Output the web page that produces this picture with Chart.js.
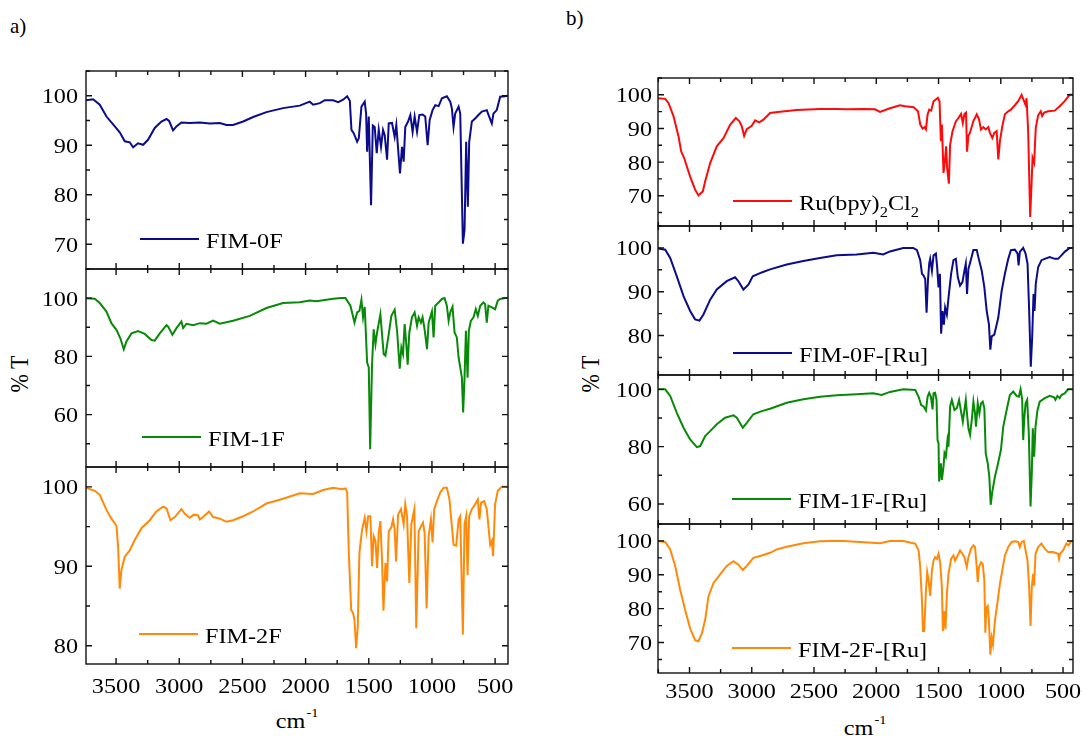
<!DOCTYPE html>
<html>
<head>
<meta charset="utf-8">
<script src="https://cdn.jsdelivr.net/npm/chart.js@4/dist/chart.umd.min.js"></script>
<style>
  body { margin: 0; background: #fff; width: 1083px; height: 736px; position: relative; overflow: hidden; }
  canvas { position: absolute; }
  .t { position: absolute; font-family: 'Liberation Serif', 'Times New Roman', serif; font-size: 22px; line-height: 1; color: #000; white-space: nowrap; }
  .rot { transform-origin: 0 0; transform: scaleX(1.1) rotate(-90deg) translate(-50%, -50%); }
  .xt { transform-origin: 50% 0; transform: translateX(-50%) scaleX(1.1); }
  .sup { font-size: 13px; position: relative; top: -11px; margin-left: 1px; }
</style>
</head>
<body>
<div class="t" style="left:10px;top:16px;font-size:21px">a)</div>
<div class="t" style="left:566px;top:8px;font-size:21px">b)</div>
<div class="t rot" style="left:20px;top:374px">% T</div>
<div class="t rot" style="left:591px;top:374px">% T</div>
<div class="t xt" style="left:297px;top:710px">cm<span class="sup">-1</span></div>
<div class="t xt" style="left:865px;top:717px">cm<span class="sup">-1</span></div>
<script>
// wavenumbers (cm-1) and transmittance (%)

// a) FIM-0F
const fim0fWn = [3740,3682,3629,3576,3510,3471,3431,3392,3365,3326,
  3286,3247,3194,3141,3101,3080,3049,3022,2983,2917,
  2837,2758,2679,2626,2574,2494,2415,2310,2178,2046,
  1967,1940,1887,1848,1782,1742,1703,1671,1650,1637,
  1618,1592,1579,1558,1532,1521,1513,1500,1482,1468,
  1453,1437,1421,1403,1387,1374,1355,1342,1316,1295,
  1282,1253,1237,1224,1211,1189,1171,1153,1137,1118,
  1100,1074,1053,1034,1018,995,974,947,921,882,
  855,842,829,816,789,776,755,742,729,716,
  705,684,658,632,605,566,547,526,513,487,
  460,421,400];
const fim0fT = [99.1,99.3,98.2,95.8,93.8,92.6,90.8,90.6,89.6,90.4,
  90.1,91.1,93.5,94.8,95.3,94.9,93.0,93.8,94.6,94.5,
  94.6,94.4,94.5,94.1,94.1,94.8,95.7,96.7,97.5,98.0,
  98.8,98.2,98.5,99.1,99.1,98.7,99.2,99.9,99.0,93.1,
  92.4,90.7,91.4,97.8,98.8,96.4,88.7,95.8,77.9,94.0,
  93.7,88.4,93.1,89.7,93.1,92.1,87.1,94.4,94.5,91.7,
  94.1,84.3,89.7,86.7,93.7,94.8,96.1,92.7,95.8,92.7,
  96.1,96.2,95.8,90.0,95.1,97.1,98.1,97.9,99.5,99.9,
  98.8,97.4,93.7,96.4,97.8,96.4,70.1,72.9,90.7,77.6,
  90.7,94.8,95.4,96.1,96.8,97.1,95.8,94.4,96.4,97.1,
  99.8,99.9,100];

// a) FIM-1F
const fim1fWn = [3740,3669,3629,3576,3537,3497,3466,3439,3418,3378,
  3326,3273,3220,3194,3154,3101,3088,3054,3022,2983,
  2969,2943,2890,2837,2785,2732,2679,2574,2442,2310,
  2178,2046,1967,1914,1782,1720,1684,1645,1613,1592,
  1574,1558,1545,1532,1513,1500,1489,1474,1461,1447,
  1434,1408,1382,1368,1342,1321,1295,1276,1255,1242,
  1229,1216,1203,1192,1179,1158,1137,1118,1105,1087,
  1074,1058,1039,1026,1000,987,974,947,921,900,
  882,868,855,837,821,803,789,776,763,753,
  742,731,718,708,692,671,653,637,618,592,
  579,566,553,526,500,479,460,421,400];
const fim1fT = [100,99.8,98.3,95.4,91.4,89.1,86.2,82.4,85.1,87.9,
  88.7,87.7,85.6,85.4,87.9,90.7,90.2,87.4,89.7,92.0,
  89.7,91.2,90.7,91.4,91.2,92.3,91.2,92.2,93.9,96.6,
  98.3,98.6,99.2,98.9,99.8,100,100,97.4,91.6,95.1,
  95.6,99.4,93.4,97.0,77.9,76.2,48.1,77.3,89.3,84.2,
  88.2,94.5,80.8,80.2,87.6,93.9,96.0,88.8,75.8,83.0,
  80.8,91.1,84.2,77.1,88.2,93.4,95.1,90.5,93.4,91.6,
  93.4,89.3,82.5,91.6,95.4,86.5,97.4,98.5,99.7,100,
  97.4,92.2,95.1,97.0,88.2,86.5,79.6,76.2,72.7,60.7,
  72.7,88.8,72.7,88.8,92.2,93.4,96.2,93.9,97.4,98.5,
  97.9,91.6,97.4,96.8,96.2,99.1,99.7,100,100];

// a) FIM-2F
const fim2fWn = [3740,3669,3629,3576,3537,3497,3484,3471,3458,3431,
  3392,3352,3299,3233,3181,3128,3101,3070,3035,2983,
  2956,2917,2885,2851,2837,2811,2764,2732,2679,2626,
  2574,2494,2415,2310,2178,2046,1940,1861,1782,1711,
  1684,1671,1658,1639,1624,1613,1600,1587,1574,1553,
  1532,1518,1505,1487,1474,1461,1447,1434,1421,1408,
  1395,1384,1368,1355,1342,1321,1308,1295,1284,1268,
  1245,1224,1211,1197,1179,1163,1139,1124,1105,1084,
  1071,1058,1042,1026,1008,995,982,961,934,908,
  882,861,842,829,808,789,776,755,742,729,
  718,705,684,658,637,624,611,587,566,539,
  526,516,500,479,447,421,400];
const fim2fT = [99.9,99.5,99.0,97.1,96.0,95.1,92.5,87.2,89.5,91.2,
  92.0,93.3,94.8,95.8,96.9,97.5,97.3,95.8,96.2,97.2,
  96.6,96.1,96.5,96.4,95.9,96.2,96.9,96.2,96.0,95.6,
  95.8,96.3,96.9,97.9,98.5,99.2,99.1,99.6,99.9,99.7,
  99.8,99.3,91.7,84.5,84.1,83.2,79.7,82.4,91.7,94.6,
  96.1,94.4,96.3,96.3,90.0,93.8,93.2,89.8,94.2,95.7,
  90.8,84.4,90.4,88.1,94.4,94.9,95.9,94.6,90.6,96.5,
  97.2,95.3,97.8,96.3,87.9,95.3,97.2,82.2,94.4,95.1,
  95.5,94.2,84.7,93.8,95.9,93.0,97.2,98.2,99.3,99.9,
  99.9,98.4,95.0,92.7,92.6,95.9,96.3,81.4,95.3,96.3,
  88.9,96.3,97.2,97.8,98.4,95.9,98.0,98.2,97.2,92.7,
  93.2,91.3,97.8,99.5,100,100,100];

// b) Ru(bpy)2Cl2
const rubpyWn = [3754,3695,3668,3628,3588,3567,3543,3495,3455,3428,
  3393,3374,3334,3281,3227,3174,3128,3099,3080,3061,
  3040,3000,2973,2941,2906,2853,2773,2639,2452,2318,
  2238,2104,2011,1970,1890,1810,1767,1700,1665,1647,
  1628,1612,1601,1588,1575,1559,1540,1505,1492,1481,
  1473,1460,1449,1439,1431,1417,1407,1388,1361,1340,
  1319,1305,1292,1279,1271,1260,1247,1220,1193,1175,
  1159,1140,1121,1100,1087,1068,1052,1033,1020,1007,
  988,967,940,919,887,860,833,817,801,793,
  780,764,753,745,732,719,700,679,668,652,
  620,567,527,487,447,420];
const rubpyT = [99.0,98.8,97.5,93.6,87.6,83.2,81.2,75.7,71.8,70.1,
  71.3,74.3,79.7,84.7,87.1,91.1,93.1,92.1,90.6,87.8,
  89.8,90.8,92.4,91.8,92.6,94.6,95.0,95.5,95.8,95.8,
  95.7,95.8,95.7,94.9,96.0,96.9,96.6,96.3,95.1,91.2,
  90.0,90.4,89.7,94.1,95.6,95.3,98.1,99.1,98.1,86.2,
  91.2,76.8,80.2,84.7,78.3,73.6,85.1,89.1,92.1,93.1,
  94.3,91.6,94.3,94.7,83.1,87.8,88.8,92.2,94.2,92.7,
  89.7,90.4,89.7,90.4,88.7,87.2,88.7,89.2,80.8,86.2,
  90.6,94.2,95.1,95.6,96.9,98.1,100,98.5,97.0,99.0,
  89.1,63.7,73.4,81.3,79.8,90.2,93.9,95.1,93.7,94.7,
  95.1,95.3,96.6,98.1,100,100];

// b) FIM-0F-[Ru]
const fim0fRuWn = [3754,3695,3655,3602,3548,3495,3455,3420,3388,3334,
  3281,3201,3134,3107,3067,3027,2992,2920,2853,2719,
  2586,2452,2318,2158,2024,1944,1890,1783,1703,1673,
  1647,1633,1620,1607,1596,1585,1575,1567,1553,1540,
  1521,1511,1500,1489,1479,1468,1457,1447,1433,1420,
  1399,1380,1361,1345,1327,1308,1292,1281,1271,1260,
  1241,1220,1193,1180,1167,1153,1132,1113,1095,1084,
  1073,1052,1020,993,967,940,919,887,865,857,
  847,820,801,785,772,759,748,737,729,719,
  700,673,647,607,567,540,513,487,447,420];
const fim0fRuT = [99.9,99.6,97.7,93.5,89.0,85.6,83.7,83.4,84.8,88.2,
  90.5,92.4,93.3,92.4,90.5,91.6,93.5,94.4,95.1,96.2,
  97.0,97.7,98.3,98.5,98.9,98.5,99.2,100,100,99.5,
  97.2,94.1,93.7,92.9,85.2,92.5,96.4,97.5,94.8,98.3,
  98.7,95.6,91.0,94.1,80.4,85.6,82.5,86.4,84.8,88.6,
  94.1,97.2,97.5,93.3,91.4,92.2,94.8,96.4,89.5,95.2,
  97.2,99.5,99.5,97.9,96.4,94.8,91.0,85.6,82.5,76.8,
  79.8,80.2,84.1,90.2,94.1,97.5,99.5,99.6,98.7,96.0,
  99.1,100,98.7,96.4,85.6,72.9,79.5,89.5,85.6,91.8,
  95.6,97.2,97.5,97.9,97.5,97.5,98.3,99.1,100,100];

// b) FIM-1F-[Ru]
const fim1fRuWn = [3754,3695,3655,3602,3548,3495,3441,3414,3374,3334,
  3281,3214,3147,3120,3072,3040,2987,2920,2853,2719,
  2586,2452,2318,2158,2024,1957,1890,1783,1687,1660,
  1639,1620,1601,1588,1575,1561,1548,1540,1527,1516,
  1508,1500,1495,1481,1473,1460,1452,1441,1428,1420,
  1407,1393,1372,1353,1335,1319,1305,1292,1281,1273,
  1260,1247,1233,1220,1207,1199,1185,1172,1159,1145,
  1132,1121,1105,1092,1081,1068,1047,1025,999,980,
  953,927,900,873,855,841,828,820,812,801,
  788,775,761,751,743,732,721,705,687,647,
  607,572,561,545,527,513,487,460,420];
const fim1fRuT = [100,100,97.7,91.8,86.6,82.5,79.8,80.2,83.7,85.4,
  87.8,90.1,90.9,90.1,86.6,88.3,91.3,92.4,93.2,95.3,
  96.5,97.4,97.9,98.3,98.6,98.0,99.1,100,99.8,97.4,
  94.5,94.0,92.6,97.4,98.8,97.4,93.0,98.6,98.8,96.3,
  82.3,81.2,67.8,74.2,68.4,73.0,77.7,76.5,82.3,80.0,
  94.0,96.3,92.8,93.4,96.3,92.2,88.7,92.8,96.3,92.2,
  86.4,84.1,89.3,95.7,91.6,87.0,95.1,91.6,95.1,95.7,
  93.4,77.7,74.2,69.5,59.7,64.3,69.5,73.6,78.8,87.0,
  92.8,98.0,99.2,97.7,97.4,100,96.3,82.3,89.3,95.1,
  96.3,84.7,59.1,70.7,86.4,76.5,87.0,92.8,95.7,96.9,
  97.7,97.2,96.3,97.7,96.9,98.0,98.6,100,100];

// b) FIM-2F-[Ru]
const fim2fRuWn = [3754,3695,3655,3615,3575,3535,3495,3455,3428,3401,
  3374,3348,3307,3254,3201,3147,3107,3072,3040,2987,
  2920,2853,2799,2719,2586,2452,2372,2265,2131,1970,
  1890,1783,1703,1687,1660,1647,1633,1625,1615,1601,
  1591,1580,1567,1553,1540,1527,1513,1500,1487,1473,
  1465,1455,1444,1433,1420,1399,1380,1367,1353,1327,
  1308,1292,1273,1260,1239,1220,1207,1193,1185,1175,
  1159,1145,1132,1124,1116,1105,1095,1084,1073,1063,
  1047,1025,1007,988,967,940,913,887,860,847,
  833,815,801,785,772,761,751,740,732,721,
  700,673,647,620,580,540,532,524,500,473,
  455,433,420];
const fim2fRuT = [100,99.7,97.5,92.6,85.6,79.6,74.2,70.7,70.4,72.7,
  76.7,83.6,87.6,90.1,92.6,94.0,93.0,91.4,92.6,95.0,
  95.7,96.5,97.5,98.3,99.3,99.9,100,100,99.7,99.3,
  100,100,99.3,99.2,97.2,92.3,82.3,73.4,73.4,85.3,
  90.8,88.3,83.8,91.3,94.2,95.2,94.7,96.2,93.7,86.3,
  73.4,79.3,73.9,84.3,90.3,94.7,95.7,94.2,95.2,97.2,
  96.2,95.2,92.3,95.2,97.7,98.7,98.2,92.3,87.8,92.3,
  93.7,93.2,88.3,72.9,80.3,80.8,76.4,66.4,71.4,69.4,
  76.4,82.3,87.3,91.3,95.7,98.2,99.7,99.9,99.7,98.2,
  99.7,100,97.2,94.2,86.3,74.9,86.3,90.3,86.8,96.2,
  98.2,99.2,97.7,96.7,96.7,96.2,94.7,96.2,97.2,99.2,
  98.7,100,100];

const NAVY = '#0b0b8c', GREEN = '#078a07', ORANGE = '#ff8a0a', RED = '#ff0a0a';
const FONT = '22px "Liberation Serif", "Times New Roman", serif';
const SUBFONT = '15px "Liberation Serif", "Times New Roman", serif';
const SX = 1.1; // text in the figure is slightly wide

const leftCol = { x: 0, w: 520, axisLeft: 86, axisRight: 508, xMin: 398, xMax: 3738, yPad: 8, xLabelDy: 29 };
const rightCol = { x: 570, w: 513, axisLeft: 658, axisRight: 1073, xMin: 420, xMax: 3753, yPad: 6, xLabelDy: 25 };

const panels = [
  { col: leftCol, top: 71, bottom: 269, wn: fim0fWn, t: fim0fT, color: NAVY, name: [['FIM-0F', 0]], yMin: 65, yMax: 105, yStep: 5, yMajor: 10, leg: [54, 168] },
  { col: leftCol, top: 269, bottom: 467, wn: fim1fWn, t: fim1fT, color: GREEN, name: [['FIM-1F', 0]], yMin: 42, yMax: 110, yStep: 10, yMajor: 20, leg: [56, 168] },
  { col: leftCol, top: 467, bottom: 664, wn: fim2fWn, t: fim2fT, color: ORANGE, name: [['FIM-2F', 0]], yMin: 77.7, yMax: 102.5, yStep: 5, yMajor: 10, leg: [53, 167], last: true },
  { col: rightCol, top: 78, bottom: 226, wn: rubpyWn, t: rubpyT, color: RED, name: [['Ru(bpy)', 0], ['2', 1], ['Cl', 0], ['2', 1]], yMin: 61, yMax: 105, yStep: 5, yMajor: 10, leg: [75, 123] },
  { col: rightCol, top: 226, bottom: 375, wn: fim0fRuWn, t: fim0fRuT, color: NAVY, name: [['FIM-0F-[Ru]', 0]], yMin: 71, yMax: 105, yStep: 5, yMajor: 10, leg: [75, 127] },
  { col: rightCol, top: 375, bottom: 524, wn: fim1fRuWn, t: fim1fRuT, color: GREEN, name: [['FIM-1F-[Ru]', 0]], yMin: 53, yMax: 105, yStep: 10, yMajor: 20, leg: [74, 124] },
  { col: rightCol, top: 524, bottom: 673, wn: fim2fRuWn, t: fim2fRuT, color: ORANGE, name: [['FIM-2F-[Ru]', 0]], yMin: 61, yMax: 105, yStep: 5, yMajor: 10, leg: [74, 124], last: true }
];

function stepValues(min, max, step) {
  const out = [];
  for (let k = Math.ceil(min / step - 1e-9); k * step <= max + 1e-9; k++) out.push(k * step);
  return out;
}

function stretchedText(ctx, parts, x, y) {
  ctx.save();
  ctx.translate(x, y);
  ctx.scale(SX, 1);
  let cx = 0;
  parts.forEach(([txt, sub]) => {
    ctx.font = sub ? SUBFONT : FONT;
    ctx.fillText(txt, cx, sub ? 7 : 0);
    cx += ctx.measureText(txt).width;
  });
  ctx.restore();
}

// frame, inward ticks on all four sides, tick labels and the legend
function framePlugin(p) {
  return {
    id: 'frame',
    afterDraw(chart) {
      const { ctx, chartArea: a, scales: { x, y } } = chart;
      ctx.save();
      ctx.strokeStyle = '#111';
      ctx.lineWidth = 1.4;
      ctx.strokeRect(a.left, a.top, a.right - a.left, a.bottom - a.top);
      ctx.beginPath();
      const xv = stepValues(p.col.xMin, p.col.xMax, 250);
      xv.forEach(v => {
        const px = x.getPixelForValue(v);
        const len = v % 500 === 0 ? 6 : 4;
        ctx.moveTo(px, a.bottom); ctx.lineTo(px, a.bottom - len);
        ctx.moveTo(px, a.top); ctx.lineTo(px, a.top + len);
      });
      const yv = stepValues(p.yMin, p.yMax, p.yStep);
      yv.forEach(v => {
        const py = y.getPixelForValue(v);
        const len = Math.round(v) % p.yMajor === 0 ? 6 : 4;
        ctx.moveTo(a.left, py); ctx.lineTo(a.left + len, py);
        ctx.moveTo(a.right, py); ctx.lineTo(a.right - len, py);
      });
      ctx.stroke();

      ctx.fillStyle = '#000';
      ctx.font = FONT;
      ctx.textBaseline = 'alphabetic';
      yv.filter(v => Math.round(v) % p.yMajor === 0).forEach(v => {
        const txt = String(Math.round(v));
        const w = ctx.measureText(txt).width * SX;
        stretchedText(ctx, [[txt, 0]], a.left - p.col.yPad - w, y.getPixelForValue(v) + 7.5);
      });
      if (p.last) {
        xv.filter(v => v % 500 === 0).forEach(v => {
          const txt = String(v);
          ctx.font = FONT;
          const w = ctx.measureText(txt).width * SX;
          stretchedText(ctx, [[txt, 0]], x.getPixelForValue(v) - w / 2, a.bottom + p.col.xLabelDy);
        });
      }

      const lx = a.left + p.leg[0], ly = a.top + p.leg[1];
      ctx.strokeStyle = p.color;
      ctx.lineWidth = 2;
      ctx.beginPath();
      ctx.moveTo(lx, ly); ctx.lineTo(lx + 59, ly);
      ctx.stroke();
      stretchedText(ctx, p.name, lx + 66, ly + 8.5);
      ctx.restore();
    }
  };
}

function makePanel(p) {
  const c = p.col;
  const padTop = 2, padBottom = p.last ? 45 : 2;
  const cv = document.createElement('canvas');
  cv.width = c.w;
  cv.height = p.bottom - p.top + padTop + padBottom;
  cv.style.left = c.x + 'px';
  cv.style.top = (p.top - padTop) + 'px';
  document.body.appendChild(cv);

  const points = p.wn.map((w, i) => ({ x: w, y: p.t[i] }));
  new Chart(cv, {
    type: 'line',
    data: {
      datasets: [{
        data: points,
        borderColor: p.color,
        borderWidth: 2,
        pointRadius: 0,
        tension: 0,
        fill: false
      }]
    },
    options: {
      responsive: false,
      animation: false,
      devicePixelRatio: 1,
      layout: {
        padding: { left: c.axisLeft - c.x, right: c.x + c.w - c.axisRight, top: padTop, bottom: padBottom }
      },
      plugins: { legend: { display: false }, tooltip: { enabled: false } },
      scales: {
        x: {
          type: 'linear', reverse: true, min: c.xMin, max: c.xMax,
          grid: { display: false }, border: { display: false },
          ticks: { display: false, stepSize: 250 },
          afterFit(s) { s.height = 0; }
        },
        y: {
          type: 'linear', min: p.yMin, max: p.yMax,
          grid: { display: false }, border: { display: false },
          ticks: { display: false, stepSize: p.yStep },
          afterFit(s) { s.width = 0; }
        }
      }
    },
    plugins: [framePlugin(p)]
  });
}

panels.forEach(makePanel);
</script>
</body>
</html>
